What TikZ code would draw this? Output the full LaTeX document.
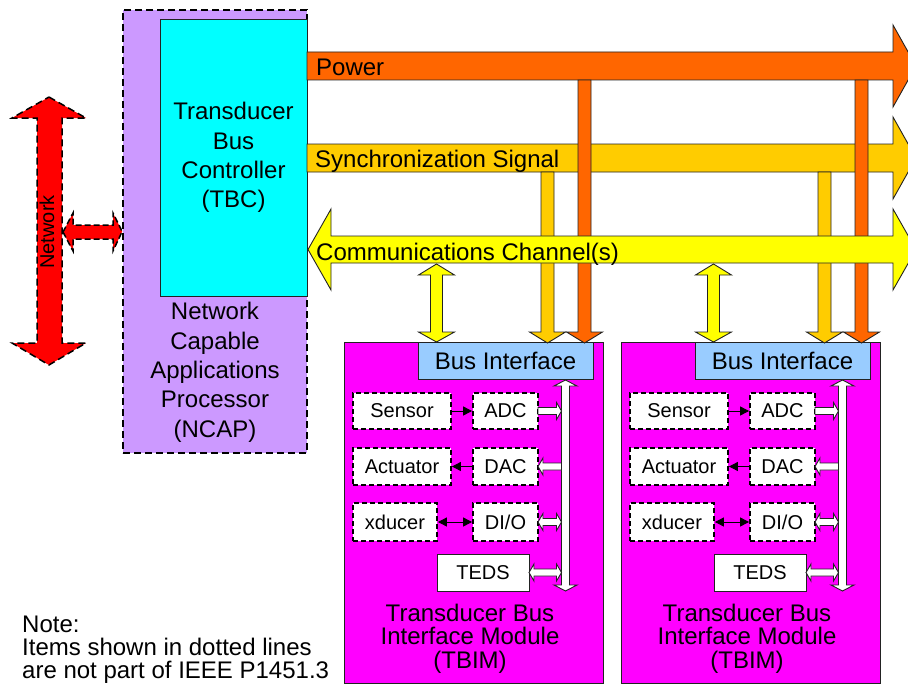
\documentclass[tikz,border=0pt]{standalone}
\usepackage{fontspec}
\setmainfont{Liberation Sans}
\usetikzlibrary{arrows.meta,positioning}
\definecolor{PowerOr}{HTML}{FF6600}
\definecolor{SyncAm}{HTML}{FFCC00}
\definecolor{CommYe}{HTML}{FFFF00}
\definecolor{NcapLil}{HTML}{CC99FF}
\definecolor{TbcCy}{HTML}{00FFFF}
\definecolor{TbimMag}{HTML}{FF00FF}
\definecolor{BusBl}{HTML}{99CCFF}
\definecolor{NetRed}{HTML}{FF0000}
\definecolor{Edge}{HTML}{222222}
\newcommand{\busdrop}[3]{% centre x, top y, colour
  \filldraw[fill=#3,blk] (#1-6.5,#2) -- (#1+6.5,#2) -- (#1+6.5,332) -- (#1+18,332)
    -- (#1,343) -- (#1-18,332) -- (#1-6.5,332) -- cycle;}
\newcommand{\chanlink}[1]{% centre x
  \filldraw[fill=CommYe,blk] (#1,264) -- (#1+18,275) -- (#1+6,275) -- (#1+6,332) -- (#1+18,332)
    -- (#1,342) -- (#1-18,332) -- (#1-6,332) -- (#1-6,275) -- (#1-18,275) -- cycle;}
\newcommand{\tobus}[3]{% box edge x, bus x, y
  \filldraw[wblk] (#1,#3-3.5) -- (#2-5,#3-3.5) -- (#2-5,#3-8.5) -- (#2,#3)
    -- (#2-5,#3+8.5) -- (#2-5,#3+3.5) -- (#1,#3+3.5) -- cycle;}
\newcommand{\frombus}[3]{%
  \filldraw[wblk] (#1,#3) -- (#1+5,#3-8.5) -- (#1+5,#3-3.5) -- (#2,#3-3.5)
    -- (#2,#3+3.5) -- (#1+5,#3+3.5) -- (#1+5,#3+8.5) -- cycle;}
\newcommand{\withbus}[3]{%
  \filldraw[wblk] (#1,#3) -- (#1+5,#3-8.5) -- (#1+5,#3-3.5) -- (#2-5,#3-3.5) -- (#2-5,#3-8.5)
    -- (#2,#3) -- (#2-5,#3+8.5) -- (#2-5,#3+3.5) -- (#1+5,#3+3.5) -- (#1+5,#3+8.5) -- cycle;}
\tikzset{
  blk/.style={draw=Edge,line width=0.9pt,line join=miter},
  wblk/.style={blk,fill=white},
  dashbox/.style={draw=black,line width=1.7pt,dash pattern=on 7pt off 4pt},
  part/.style={draw=black,line width=1.8pt,dash pattern=on 5pt off 3pt,fill=white,inner sep=0pt,font=\fontsize{20}{24}\selectfont},
  arr/.style={-{Triangle[length=9pt,width=9pt]},line width=0.9pt},
  arrs/.style={{Triangle[length=9pt,width=9pt]}-{Triangle[length=9pt,width=9pt]},line width=0.9pt},
  big/.style={font=\fontsize{24}{29.3}\selectfont},
  lbl/.style={inner sep=0pt,anchor=base west,big},
}
\begin{document}
\begin{tikzpicture}[x=1pt,y=-1pt]
\clip (0,0) rectangle (908,685);
% NCAP and TBC
\node[dashbox,fill=NcapLil,minimum width=184,minimum height=443,inner sep=0] (ncap) at (215,231.5) {};
\node[blk,fill=TbcCy,minimum width=147,minimum height=277,inner sep=0,align=center,big] (tbc) at (233.5,157.5) {Transducer\\Bus\\Controller\\(TBC)};
\node[big,align=center,anchor=base,inner sep=0] (ncaplbl) at (215,437) {Network\\Capable\\Applications\\Processor\\(NCAP)};
% network
\filldraw[fill=NetRed,dashbox,line width=1.5pt] (49,97) -- (86,118) -- (62,118) -- (62,343) -- (86,343) -- (49,365)
  -- (12,343) -- (37,343) -- (37,118) -- (12,118) -- cycle;
\filldraw[fill=NetRed,dashbox,line width=1.5pt,dash pattern=on 6pt off 3pt] (63,232) -- (73,213) -- (73,225) -- (113,225) -- (113,213) -- (ncap.west)
  -- (113,251) -- (113,239) -- (73,239) -- (73,251) -- cycle;
\node[rotate=90,font=\fontsize{20}{24}\selectfont] (netlbl) at (47,232) {Network};
% bus lines
\filldraw[fill=PowerOr,blk] (307,52) -- (893,52) -- (893,25) -- (916,66) -- (893,107) -- (893,80) -- (307,80) -- cycle;
\filldraw[fill=SyncAm,blk] (307,144) -- (893,144) -- (893,117) -- (916,158) -- (893,199) -- (893,172) -- (307,172) -- cycle;
% modules
\foreach \m/\dx in {1/0,2/277}{
\begin{scope}[xshift=\dx]
  \node[blk,fill=TbimMag,minimum width=259,minimum height=341,inner sep=0] (tbim\m) at (473.5,512.5) {};
  \node[align=center,anchor=base,inner sep=0,font=\fontsize{24}{23.5}\selectfont] (tbimlbl\m) at (470,668) {Transducer Bus\\Interface Module\\(TBIM)};
  \node[blk,fill=BusBl,minimum width=175,minimum height=37,inner sep=0,big] (bif\m) at (505.5,360.5) {Bus Interface};
  \node[part,minimum width=98,minimum height=36] (sen\m) at (402,411) {Sensor};
  \node[part,minimum width=65,minimum height=36] (adc\m) at (505.5,411) {ADC};
  \node[part,minimum width=98,minimum height=37] (act\m) at (402,466.5) {Actuator};
  \node[part,minimum width=65,minimum height=37] (dac\m) at (505.5,466.5) {DAC};
  \node[part,minimum width=84,minimum height=38] (xdc\m) at (395,522) {xducer};
  \node[part,minimum width=65,minimum height=38] (dio\m) at (505.5,522) {DI/O};
  \node[blk,fill=white,inner sep=0,minimum width=92,minimum height=37,font=\fontsize{20}{24}\selectfont] (teds\m) at (483,572.5) {TEDS};
  \draw[arr] (sen\m) -- (adc\m);
  \draw[arr] (dac\m) -- (act\m);
  \draw[arrs] (xdc\m) -- (dio\m);
  \filldraw[wblk] (565.5,380) -- (577,386) -- (569.5,386) -- (569.5,585) -- (577,585) -- (565.5,591)
    -- (554,585) -- (561.5,585) -- (561.5,386) -- (554,386) -- cycle;
  \tobus{538}{561.5}{411}
  \frombus{538}{561.5}{466.5}
  \withbus{538}{561.5}{522}
  \withbus{529}{561.5}{572.5}
  \busdrop{547.5}{172}{SyncAm}
  \busdrop{584.5}{80}{PowerOr}
  \chanlink{436.5}
\end{scope}}
\filldraw[fill=CommYe,blk] (308,249.5) -- (331,209) -- (331,236) -- (893,236) -- (893,209) -- (916,249.5)
  -- (893,290) -- (893,263) -- (331,263) -- (331,290) -- cycle;
\node[lbl] (pwrlbl) at (316,75) {Power};
\node[lbl] (synclbl) at (315,167) {Synchronization Signal};
\node[lbl] (commlbl) at (316,260) {Communications Channel(s)};
% note
\node[anchor=base west,align=left,inner sep=0,font=\fontsize{24}{22.7}\selectfont] (note) at (22,678) {Note:\\Items shown in dotted lines\\are not part of IEEE P1451.3};
\end{tikzpicture}
\end{document}
